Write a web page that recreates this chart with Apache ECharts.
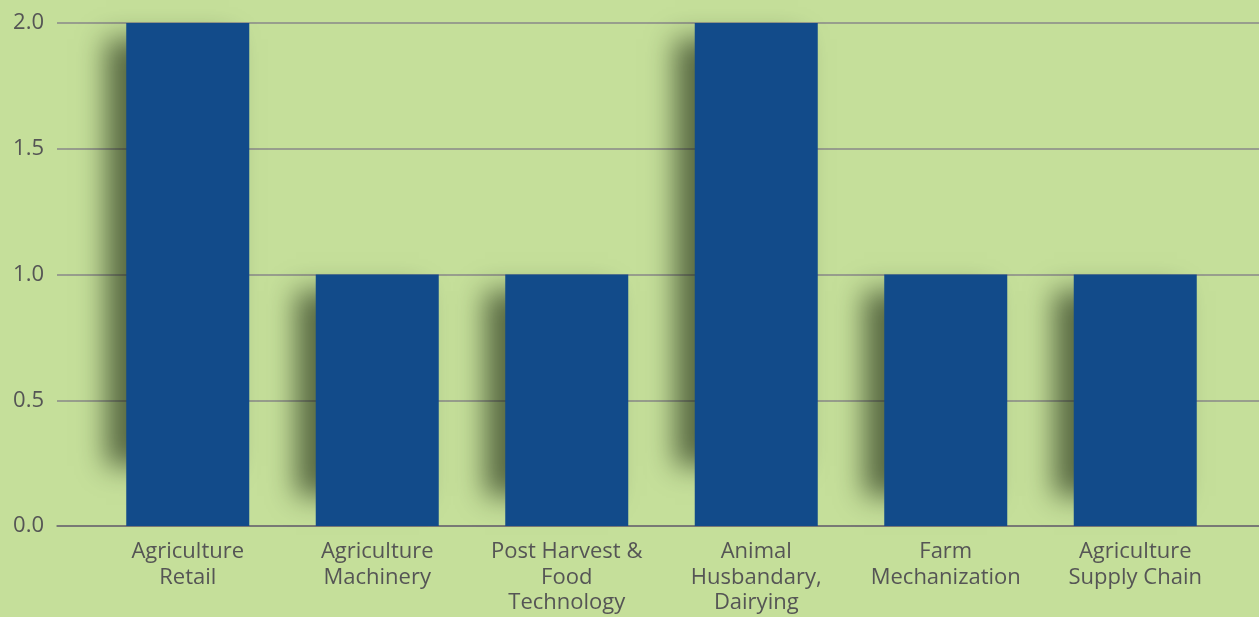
<!DOCTYPE html>
<html>
<head>
<meta charset="utf-8">
<script src="https://cdn.jsdelivr.net/npm/echarts@6/dist/echarts.min.js"></script>
<style>
  html, body { margin: 0; padding: 0; background: #c5df9a; }
  #chart { width: 1259px; height: 617px; }
</style>
</head>
<body>
<div id="chart"></div>
<script>
const categories = [
  "Agriculture\nRetail",
  "Agriculture\nMachinery",
  "Post Harvest &\nFood\nTechnology",
  "Animal\nHusbandary,\nDairying",
  "Farm\nMechanization",
  "Agriculture\nSupply Chain"
];
const counts = [2, 1, 1, 2, 1, 1];
const yTicks = [0, 0.5, 1, 1.5, 2];

const chart = echarts.init(document.getElementById("chart"));
const font = "'Open Sans', 'Noto Sans', sans-serif";
const BAR_W = 123;
const FAR = 3000; // draw shape off screen, keep only its shadow

// soft shadow on the left of each bar, a bit shorter than the bar
function renderShadow(params, api) {
  const top = api.coord([api.value(0), api.value(1)]);
  const base = api.coord([api.value(0), 0]);
  const h = base[1] - top[1];
  const y0 = top[1] + 16;
  const y1 = top[1] + h * 0.88;
  return {
    type: "rect",
    shape: { x: top[0] - BAR_W / 2 - 20 + FAR, y: y0, width: BAR_W, height: y1 - y0 },
    style: {
      fill: "#000",
      shadowColor: "rgba(25, 35, 15, 0.62)",
      shadowBlur: 26,
      shadowOffsetX: -FAR,
      shadowOffsetY: 0
    }
  };
}

chart.setOption({
  backgroundColor: "#c5df9a",
  animation: false,
  grid: [
    // full width grid for the gridlines and y labels
    { left: 57, right: 0, top: 23, bottom: 91 },
    // inner grid for the bars
    { left: 93, right: 29, top: 23, bottom: 91 }
  ],
  xAxis: [
    {
      gridIndex: 0,
      type: "category",
      data: categories,
      axisLine: { show: true, lineStyle: { color: "#6e6e6e", width: 1.5 } },
      axisTick: { show: false },
      axisLabel: { show: false }
    },
    {
      gridIndex: 1,
      type: "category",
      data: categories,
      axisLine: { show: false },
      axisTick: { show: false },
      axisLabel: {
        color: "#555",
        fontSize: 22,
        lineHeight: 25.5,
        fontFamily: font,
        margin: 13,
        interval: 0
      }
    }
  ],
  yAxis: [
    {
      gridIndex: 0,
      type: "value",
      min: yTicks[0],
      max: yTicks[yTicks.length - 1],
      interval: 0.5,
      axisLine: { show: false },
      axisTick: { show: false },
      splitLine: { lineStyle: { color: "#888", width: 1.5 } },
      axisLabel: {
        color: "#555",
        fontSize: 22,
        fontFamily: font,
        margin: 13,
        formatter: v => v.toFixed(1)
      }
    },
    {
      gridIndex: 1,
      type: "value",
      min: yTicks[0],
      max: yTicks[yTicks.length - 1],
      interval: 0.5,
      show: false
    }
  ],
  series: [
    {
      type: "custom",
      xAxisIndex: 1,
      yAxisIndex: 1,
      data: counts.map((v, i) => [i, v]),
      encode: { x: 0, y: 1 },
      renderItem: renderShadow,
      silent: true,
      z: 1
    },
    {
      type: "bar",
      xAxisIndex: 1,
      yAxisIndex: 1,
      data: counts,
      barWidth: BAR_W,
      itemStyle: { color: "#124b8a" },
      z: 2
    }
  ]
});
</script>
</body>
</html>
